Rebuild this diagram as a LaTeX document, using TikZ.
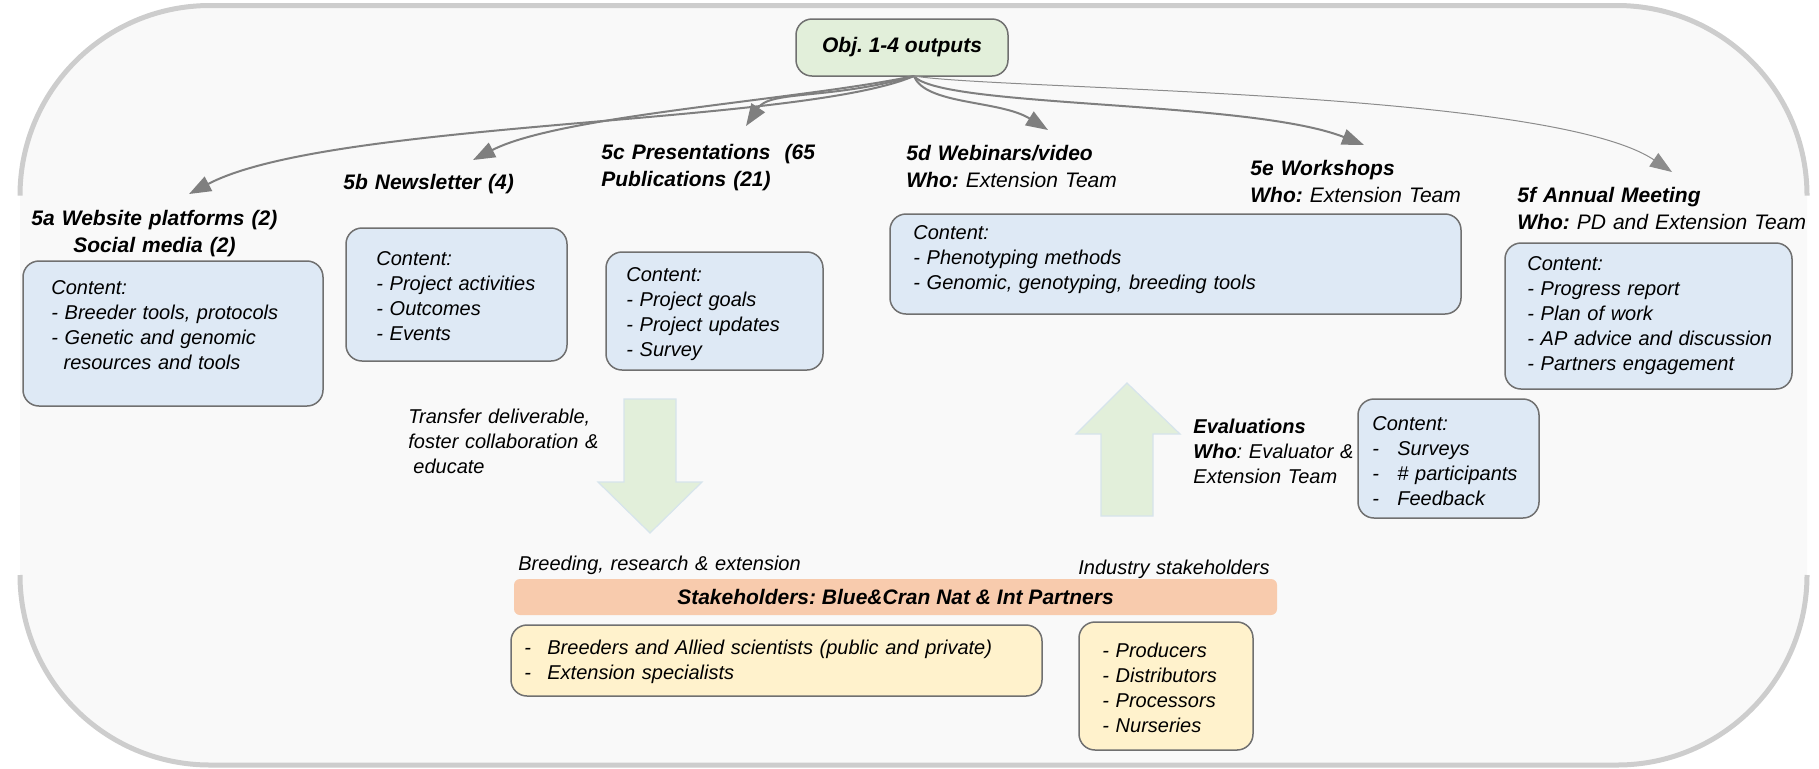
\documentclass[tikz,border=0pt]{standalone}
\usepackage{fontspec}
\setmainfont{Liberation Sans}
\usepackage{xcolor}
\usetikzlibrary{arrows.meta}
\frenchspacing

\definecolor{bgfill}{HTML}{F9F9F9}
\definecolor{bgline}{HTML}{CDCDCD}
\definecolor{boxblue}{HTML}{DEE9F5}
\definecolor{boxgreen}{HTML}{E2EFDA}
\definecolor{boxyellow}{HTML}{FFF2CC}
\definecolor{barorange}{HTML}{F8CBAD}
\definecolor{edgegray}{HTML}{707070}
\definecolor{linkgray}{HTML}{7F7F7F}
\definecolor{faintgray}{HTML}{8C8C8C}
\definecolor{arrowedge}{HTML}{D6E4EC}

\tikzset{
	contentbox/.style={draw=edgegray, line width=0.75pt, rounded corners=8pt, anchor=north west, inner sep=0pt, outer sep=0pt},
	bluebox/.style={contentbox, fill=boxblue},
	yellowbox/.style={contentbox, fill=boxyellow},
	titletext/.style={font=\fontsize{10.5}{13.5}\selectfont\bfseries\itshape, anchor=base west, align=left, inner sep=0pt, text width=#1},
	bodytext/.style={font=\fontsize{10}{12.5}\selectfont\itshape, anchor=base west, align=left, inner sep=0pt, text width=#1},
	link/.style={draw=linkgray, line width=1pt, -{Triangle[length=11pt, width=8pt]}},
	thinlink/.style={draw=faintgray, line width=0.5pt, -{Triangle[length=11pt, width=8pt]}},
	bigarrow/.style={fill=boxgreen, draw=arrowedge, line width=0.6pt}
}

\begin{document}
\begin{tikzpicture}[x=0.5pt, y=-0.5pt]
	\useasboundingbox (0, 0) rectangle (1819, 768);
	\fill [bgfill, rounded corners=95pt] (20, 5.5) rectangle (1807, 765);
	\draw [bgline, line width=2.5pt, rounded corners=95pt] (20, 193) -- (20, 5.5) -- (1807, 5.5) -- (1807, 193);
	\draw [bgline, line width=2.5pt, rounded corners=95pt] (20, 577) -- (20, 765) -- (1807, 765) -- (1807, 577);

	\node [contentbox, fill=boxgreen, anchor=center, minimum width=106pt, minimum height=28.5pt, font=\fontsize{10.5}{13}\selectfont\bfseries\itshape] (obj) at (902, 47.5) {Obj. 1-4 outputs};

	\coordinate (src) at (914, 76);
	\coordinate (tip5a) at (189, 194);
	\coordinate (tip5b) at (473, 160);
	\coordinate (tip5c) at (746, 126);
	\coordinate (tip5d) at (1048, 130);
	\coordinate (tip5e) at (1364, 145);
	\coordinate (tip5f) at (1672, 172);

	\draw [link] (src) .. controls (800, 125) and (330, 120) .. (tip5a);
	\draw [link] (src) .. controls (800, 100) and (560, 115) .. (tip5b);
	\draw [link] (src) .. controls (830, 100) and (770, 90) .. (tip5c);
	\draw [link] (src) .. controls (925, 105) and (1000, 100) .. (tip5d);
	\draw [link] (src) .. controls (940, 108) and (1250, 100) .. (tip5e);
	\draw [thinlink] (src) .. controls (1000, 90) and (1550, 90) .. (tip5f);

	\node [titletext=135pt, align=center] (t5a) at (19, 225.6) {5a Website platforms (2)\\Social media (2)};
	\node [titletext=100pt] (t5b) at (343, 189.6) {5b Newsletter (4)};
	\node [titletext=120pt] (t5c) at (601, 159.6) {5c Presentations \ (65\\Publications (21)};
	\node [titletext=130pt] (t5d) at (906, 160.6) {5d Webinars/video\\Who:\mdseries\ Extension Team};
	\node [titletext=130pt] (t5e) at (1250, 175.6) {5e Workshops\\Who:\mdseries\ Extension Team};
	\node [titletext=160pt] (t5f) at (1517, 202.6) {5f Annual Meeting\\Who:\mdseries\ PD and Extension Team};

	\node [bluebox, minimum width=150pt, minimum height=72.5pt] (b5a) at (23, 261) {};
	\node [bluebox, minimum width=110.5pt, minimum height=66.5pt] (b5b) at (346, 228) {};
	\node [bluebox, minimum width=108.5pt, minimum height=59pt] (b5c) at (606, 252) {};
	\node [bluebox, minimum width=285.5pt, minimum height=50pt] (b5de) at (890, 214) {};
	\node [bluebox, minimum width=143.5pt, minimum height=73pt] (b5f) at (1505, 243) {};
	\node [bluebox, minimum width=90.5pt, minimum height=59.5pt] (beval) at (1358, 399) {};

	\node [bodytext=140pt] (c5a) at (51, 294.2) {Content:\\- Breeder tools, protocols\\- Genetic and genomic\\\hspace*{6.1pt}resources and tools};
	\node [bodytext=100pt] (c5b) at (376, 265.2) {Content:\\- Project activities\\- Outcomes\\- Events};
	\node [bodytext=100pt] (c5c) at (626, 281.7) {Content:\\- Project goals\\- Project updates\\- Survey};
	\node [bodytext=270pt] (c5de) at (913, 239.2) {Content:\\- Phenotyping methods\\- Genomic, genotyping, breeding tools};
	\node [bodytext=140pt] (c5f) at (1527, 270.2) {Content:\\- Progress report\\- Plan of work\\- AP advice and discussion\\- Partners engagement};
	\node [bodytext=85pt] (ceval) at (1372, 430.2) {Content:\\\makebox[12.5pt][l]{-}Surveys\\\makebox[12.5pt][l]{-}\# participants\\\makebox[12.5pt][l]{-}Feedback};

	\draw [bigarrow] (624, 399) -- (676, 399) -- (676, 482) -- (702, 482) -- (650, 533) -- (598, 482) -- (624, 482) -- cycle;
	\draw [bigarrow] (1101, 516) -- (1153, 516) -- (1153, 434) -- (1180, 434) -- (1127, 383) -- (1076, 434) -- (1101, 434) -- cycle;

	\node [bodytext=100pt] (transfer) at (408, 423.2) {Transfer deliverable,\\foster collaboration \&\\\hspace*{2.5pt}educate};
	\node [bodytext=85pt] (evallabel) at (1193, 433.2) {\textbf{Evaluations}\\\textbf{Who}: Evaluator \&\\Extension Team};

	\node [bodytext=170pt] (breeding) at (518, 570.2) {Breeding, research \& extension};
	\node [bodytext=120pt] (industry) at (1078, 574.2) {Industry stakeholders};

	\node [fill=barorange, rounded corners=3pt, inner sep=0pt, minimum width=381.5pt, minimum height=18pt, font=\fontsize{10.5}{13}\selectfont\bfseries\itshape] (stake) at (895.5, 597) {Stakeholders: Blue\&Cran Nat \& Int Partners};

	\node [yellowbox, minimum width=265.5pt, minimum height=35.5pt] (bbreed) at (511, 625) {};
	\node [yellowbox, minimum width=87pt, minimum height=64pt] (bprod) at (1079, 622) {};

	\node [bodytext=260pt] (cbreed) at (524, 654.2) {\makebox[11.5pt][l]{-}Breeders and Allied scientists (public and private)\\\makebox[11.5pt][l]{-}Extension specialists};
	\node [bodytext=80pt] (cprod) at (1102, 657.2) {- Producers\\- Distributors\\- Processors\\- Nurseries};
\end{tikzpicture}
\end{document}
